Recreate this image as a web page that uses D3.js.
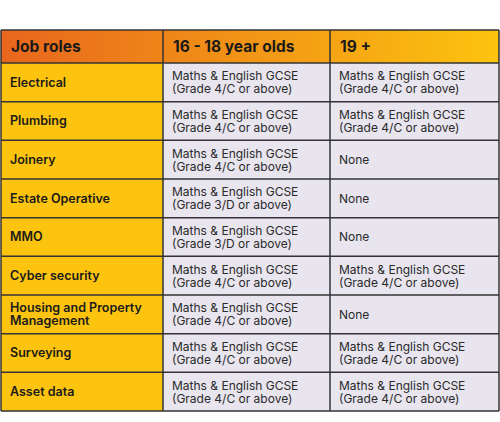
<!DOCTYPE html>
<html><head><meta charset="utf-8">
<script src="https://cdn.jsdelivr.net/npm/d3@7"></script>
<style>body{margin:0;background:#fff}</style>
</head><body>
<svg id="chart" width="500" height="422"></svg>
<script>
var headers = ["Job roles", "16 - 18 year olds", "19 +"];
var roles = ["Electrical", "Plumbing", "Joinery", "Estate Operative", "MMO", "Cyber security",
  "Housing and Property\nManagement", "Surveying", "Asset data"];
var young = ["4/C", "4/C", "4/C", "3/D", "3/D", "4/C", "4/C", "4/C", "4/C"];
var adult = ["4/C", "4/C", null, null, null, "4/C", null, "4/C", "4/C"];

var svg = d3.select("#chart");
var colEdges = [1, 163, 330, 499];
var tableTop = 30, headH = 33, tableBottom = 411;

var defs = svg.append("defs");
var g = defs.append("linearGradient").attr("id", "hg");
g.append("stop").attr("offset", "0%").attr("stop-color", "#e8661d");
g.append("stop").attr("offset", "100%").attr("stop-color", "#fcc40f");

var y = d3.scaleBand().domain(d3.range(roles.length)).range([tableTop + headH, tableBottom]);

// header
svg.append("rect").attr("x", colEdges[0]).attr("y", tableTop).attr("width", colEdges[3] - colEdges[0])
  .attr("height", headH).attr("fill", "url(#hg)");
svg.selectAll(".h").data(headers).enter().append("text")
  .attr("x", function(d, i){ return colEdges[i] + 10; })
  .attr("y", tableTop + headH / 2 + 5.5)
  .attr("font-family", "Inter, sans-serif").attr("font-weight", 700).attr("font-size", 15.5)
  .attr("fill", "#1a1a1a").text(function(d){ return d; });

// rows
var rows = svg.selectAll(".row").data(roles).enter().append("g")
  .attr("transform", function(d, i){ return "translate(0," + y(i) + ")"; });
rows.append("rect").attr("x", colEdges[0]).attr("width", colEdges[1] - colEdges[0])
  .attr("height", y.bandwidth()).attr("fill", "#fcc40f");
rows.append("rect").attr("x", colEdges[1]).attr("width", colEdges[3] - colEdges[1])
  .attr("height", y.bandwidth()).attr("fill", "#e8e5ef");

function cell(sel, col, val) {
  var t = sel.append("text").attr("font-family", "Inter, sans-serif").attr("font-size", 12)
    .attr("fill", "#2a2a2a");
  if (val == null) {
    t.attr("x", colEdges[col] + 9).attr("y", y.bandwidth() / 2 + 4.5).text("None");
  } else {
    t.append("tspan").attr("x", colEdges[col] + 9).attr("y", y.bandwidth() / 2 - 2).text("Maths & English GCSE");
    t.append("tspan").attr("x", colEdges[col] + 9).attr("y", y.bandwidth() / 2 + 11).text("(Grade " + val + " or above)");
  }
}
rows.each(function(d, i){
  var sel = d3.select(this);
  var lines = d.split("\n");
  var lt = sel.append("text").attr("font-family", "Inter, sans-serif").attr("font-weight", 600)
    .attr("font-size", 12.5).attr("fill", "#1a1a1a");
  lines.forEach(function(l, k){
    lt.append("tspan").attr("x", colEdges[0] + 9)
      .attr("y", y.bandwidth() / 2 + 4.5 + (k - (lines.length - 1) / 2) * 13).text(l);
  });
  cell(sel, 1, young[i]);
  cell(sel, 2, adult[i]);
});

// grid lines
var hl = [tableTop, tableTop + headH].concat(d3.range(roles.length).map(function(i){ return y(i) + y.bandwidth(); }));
svg.selectAll(".hl").data(hl).enter().append("line")
  .attr("x1", colEdges[0]).attr("x2", colEdges[3]).attr("y1", function(d){ return d; }).attr("y2", function(d){ return d; })
  .attr("stroke", "#333").attr("stroke-width", 1.5);
svg.selectAll(".vl").data(colEdges).enter().append("line")
  .attr("x1", function(d){ return d; }).attr("x2", function(d){ return d; }).attr("y1", tableTop).attr("y2", tableBottom)
  .attr("stroke", "#333").attr("stroke-width", 1.5);
</script>
</body></html>
